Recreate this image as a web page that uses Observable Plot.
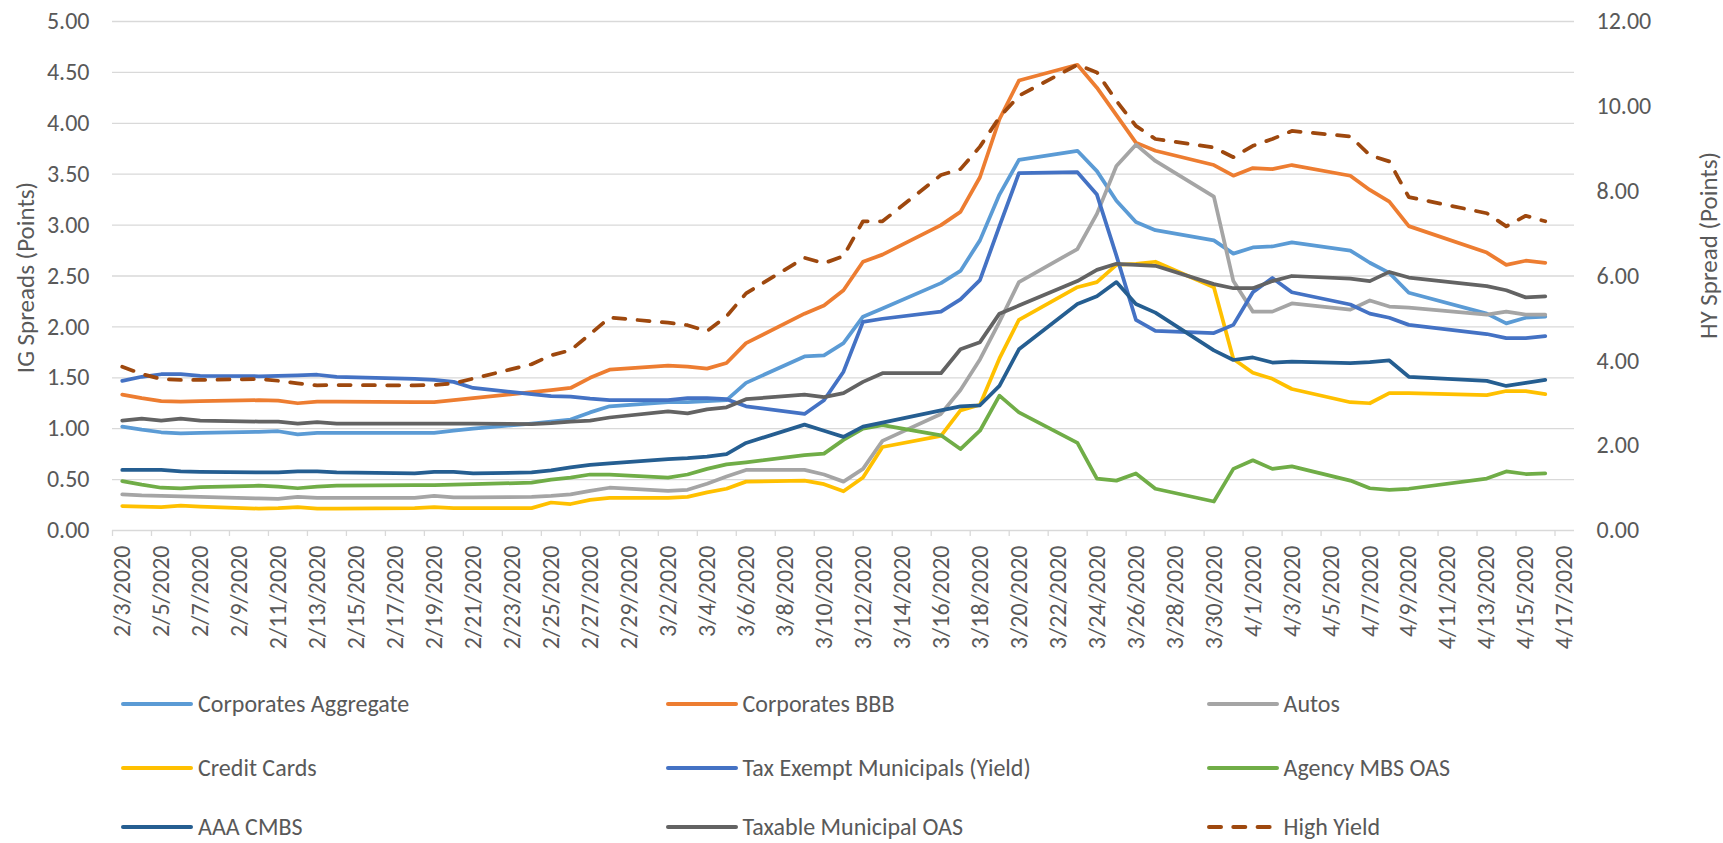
<!DOCTYPE html>
<html><head><meta charset="utf-8">
<script src="https://cdn.jsdelivr.net/npm/d3@7"></script>
<script src="https://cdn.jsdelivr.net/npm/@observablehq/plot@0.6"></script>
<style>
html,body{margin:0;padding:0;background:#fff;overflow:hidden;}
body{width:1723px;height:843px;font-family:Carlito,Calibri,Lato,sans-serif;color:#595959;}
#chart svg{display:block;}
#legend{position:relative;width:1723px;height:193px;}
.item{position:absolute;height:30px;display:flex;align-items:center;white-space:nowrap;font-size:24px;line-height:1;color:#595959;}
.item svg{display:block;}
.item span{line-height:1;}
</style></head><body>
<div id="chart"></div>
<div id="legend"></div>
<script>
// trading days (Presidents Day 2/17 and Good Friday 4/10 have no data)
const dates = ["2/3","2/4","2/5","2/6","2/7","2/10","2/11","2/12","2/13","2/14","2/18","2/19","2/20","2/21","2/24","2/25","2/26","2/27","2/28",
"3/2","3/3","3/4","3/5","3/6","3/9","3/10","3/11","3/12","3/13","3/16","3/17","3/18","3/19","3/20","3/23","3/24","3/25","3/26","3/27","3/30","3/31",
"4/1","4/2","4/3","4/6","4/7","4/8","4/9","4/13","4/14","4/15","4/16"];

const corpAgg = [1.02,0.99,0.965,0.955,0.96,0.97,0.975,0.945,0.96,0.96,0.96,0.96,0.98,1.00,1.05,1.07,1.09,1.16,1.22,
1.26,1.26,1.27,1.28,1.45,1.71,1.72,1.84,2.10,2.18,2.43,2.55,2.85,3.30,3.64,3.73,3.53,3.24,3.03,2.95,2.85,2.72,
2.78,2.79,2.83,2.75,2.63,2.53,2.335,2.13,2.035,2.09,2.10];
const corpBBB = [1.335,1.30,1.27,1.265,1.27,1.28,1.275,1.25,1.265,1.265,1.26,1.26,1.28,1.30,1.36,1.38,1.40,1.50,1.58,
1.62,1.61,1.59,1.645,1.84,2.13,2.21,2.36,2.64,2.71,3.00,3.13,3.47,4.04,4.42,4.575,4.35,4.08,3.81,3.73,3.59,3.485,
3.56,3.55,3.59,3.485,3.345,3.23,2.99,2.73,2.61,2.65,2.63];
const autos = [0.355,0.345,0.34,0.335,0.33,0.315,0.31,0.33,0.32,0.32,0.32,0.34,0.325,0.325,0.33,0.34,0.355,0.39,0.42,
0.39,0.40,0.46,0.53,0.595,0.595,0.55,0.48,0.605,0.88,1.145,1.38,1.68,2.05,2.44,2.765,3.11,3.58,3.79,3.63,3.28,2.45,
2.15,2.15,2.23,2.17,2.26,2.20,2.19,2.12,2.15,2.12,2.12];
const creditCards = [0.24,0.235,0.23,0.245,0.235,0.215,0.22,0.23,0.215,0.215,0.22,0.23,0.22,0.22,0.22,0.275,0.26,0.30,0.32,
0.32,0.33,0.375,0.41,0.48,0.49,0.455,0.385,0.52,0.82,0.93,1.18,1.235,1.69,2.07,2.39,2.44,2.61,2.62,2.64,2.39,1.685,
1.55,1.49,1.39,1.26,1.25,1.35,1.35,1.33,1.37,1.37,1.34];
const taxExempt = [1.47,1.51,1.535,1.535,1.52,1.515,1.52,1.525,1.53,1.51,1.49,1.48,1.46,1.40,1.34,1.32,1.315,1.295,1.28,
1.28,1.30,1.30,1.29,1.22,1.145,1.28,1.56,2.05,2.08,2.15,2.27,2.46,2.99,3.51,3.52,3.30,2.70,2.07,1.96,1.94,2.02,
2.34,2.48,2.34,2.22,2.13,2.09,2.02,1.93,1.89,1.89,1.91];
const agencyMBS = [0.485,0.45,0.42,0.415,0.425,0.44,0.43,0.415,0.43,0.44,0.445,0.445,0.45,0.455,0.47,0.50,0.52,0.55,0.55,
0.52,0.55,0.605,0.65,0.67,0.74,0.755,0.89,1.00,1.035,0.935,0.80,0.98,1.325,1.16,0.86,0.51,0.49,0.56,0.41,0.285,0.605,
0.69,0.605,0.63,0.49,0.415,0.40,0.41,0.51,0.58,0.555,0.56];
const aaaCMBS = [0.595,0.595,0.595,0.58,0.575,0.57,0.57,0.58,0.58,0.57,0.56,0.575,0.575,0.56,0.57,0.59,0.62,0.645,0.66,
0.70,0.71,0.725,0.75,0.86,1.04,0.98,0.92,1.02,1.06,1.18,1.22,1.23,1.42,1.78,2.225,2.30,2.44,2.225,2.14,1.77,1.675,
1.70,1.65,1.66,1.645,1.655,1.67,1.51,1.47,1.42,1.45,1.48];
const taxableMuni = [1.08,1.10,1.08,1.10,1.08,1.07,1.07,1.05,1.065,1.05,1.05,1.05,1.05,1.05,1.045,1.055,1.07,1.08,1.11,
1.17,1.15,1.19,1.21,1.29,1.335,1.31,1.35,1.46,1.545,1.545,1.78,1.85,2.13,2.21,2.45,2.56,2.62,2.61,2.60,2.42,2.38,
2.38,2.45,2.50,2.475,2.45,2.54,2.485,2.40,2.36,2.29,2.30];
// High Yield is read on the right axis (0-12)
const highYield = [3.86,3.69,3.57,3.55,3.55,3.57,3.53,3.47,3.42,3.43,3.42,3.43,3.47,3.58,3.92,4.13,4.25,4.63,5.02,
4.90,4.84,4.70,5.05,5.59,6.43,6.30,6.47,7.29,7.29,8.38,8.52,9.05,9.74,10.25,10.98,10.80,10.13,9.54,9.23,9.03,8.80,
9.07,9.23,9.42,9.29,8.85,8.70,7.86,7.48,7.17,7.42,7.29];

const seriesNames = ["Corporates Aggregate","Corporates BBB","Autos","Credit Cards","Tax Exempt Municipals (Yield)",
"Agency MBS OAS","AAA CMBS","Taxable Municipal OAS","High Yield"];
const seriesColors = ["#5B9BD5","#ED7D31","#A5A5A5","#FFC000","#4472C4","#70AD47","#255E91","#636363","#9E480E"];
const seriesValues = [corpAgg,corpBBB,autos,creditCards,taxExempt,agencyMBS,aaaCMBS,taxableMuni,highYield];
const secondaryAxis = [false,false,false,false,false,false,false,false,true];

const xTickLabels = ["2/3/2020","2/5/2020","2/7/2020","2/9/2020","2/11/2020","2/13/2020","2/15/2020","2/17/2020","2/19/2020",
"2/21/2020","2/23/2020","2/25/2020","2/27/2020","2/29/2020","3/2/2020","3/4/2020","3/6/2020","3/8/2020","3/10/2020",
"3/12/2020","3/14/2020","3/16/2020","3/18/2020","3/20/2020","3/22/2020","3/24/2020","3/26/2020","3/28/2020","3/30/2020",
"4/1/2020","4/3/2020","4/5/2020","4/7/2020","4/9/2020","4/11/2020","4/13/2020","4/15/2020","4/17/2020"];
const yTicks = [0,0.5,1,1.5,2,2.5,3,3.5,4,4.5,5];
const hyTicks = [0,2,4,6,8,10,12];
const hyRatio = 12 / 5;

const DAY = 864e5, HALF = DAY / 2;
function parseDay(s) { const [m, d, y] = s.split("/").map(Number); return new Date(Date.UTC(y || 2020, m - 1, d)); }
const xStart = parseDay("2/3/2020");
const xEnd = new Date(parseDay("4/17/2020").getTime() + DAY);
const tickDates = xTickLabels.map(parseDay);
const labelDates = tickDates.map(d => new Date(d.getTime() + HALF));
const labelMap = new Map(labelDates.map((d, i) => [d.getTime(), xTickLabels[i]]));

const rows = [];
seriesNames.forEach((name, i) => seriesValues[i].forEach((v, j) =>
  rows.push({series: name, date: new Date(parseDay(dates[j]).getTime() + HALF), value: v, secondary: secondaryAxis[i]})));

const FONT = "Carlito, Calibri, Lato, sans-serif";
const TXT = "#595959";
const FS = 24;

const lineMarks = seriesNames.map((name, i) => Plot.line(rows.filter(r => r.series === name), {
  x: "date",
  y: d => d.secondary ? d.value / hyRatio : d.value,
  stroke: seriesColors[i],
  strokeWidth: 3.75,
  strokeLinecap: "round",
  strokeLinejoin: "round",
  strokeDasharray: secondaryAxis[i] ? "12,12.3" : undefined
}));

const chart = Plot.plot({
  width: 1723, height: 650,
  marginLeft: 112, marginRight: 149, marginTop: 21, marginBottom: 120,
  style: {fontFamily: FONT, fontSize: FS + "px", color: TXT, background: "#fff", overflow: "visible"},
  x: {type: "utc", domain: [xStart, xEnd], label: null},
  y: {domain: [0, 5], label: null},
  marks: [
    Plot.gridY(yTicks.filter(t => t > 0), {stroke: "#D9D9D9", strokeOpacity: 1, strokeWidth: 1.3}),
    Plot.ruleY([0], {stroke: "#D9D9D9", strokeWidth: 1.3}),
    Plot.axisX(tickDates, {tickSize: 6, text: null, stroke: "#D9D9D9", strokeOpacity: 1, strokeWidth: 1.3, label: null}),
    Plot.axisX(labelDates, {tickSize: 0, tickPadding: 15, tickRotate: -90, tickFormat: d => labelMap.get(d.getTime()),
      fill: TXT, fontSize: FS, label: null}),
    Plot.axisY(yTicks, {tickSize: 0, tickPadding: 23, tickFormat: d => d.toFixed(2), fill: TXT, fontSize: FS, label: null}),
    Plot.axisY(hyTicks.map(v => v / hyRatio), {anchor: "right", tickSize: 0, tickPadding: 22,
      tickFormat: d => (d * hyRatio).toFixed(2), fill: TXT, fontSize: FS, label: null}),
    Plot.text(["IG Spreads (Points)"], {text: d => d, frameAnchor: "left", dx: -87, dy: 1.5, rotate: -90,
      fill: TXT, fontSize: 25, textAnchor: "middle", lineAnchor: "middle"}),
    Plot.text(["HY Spread (Points)"], {text: d => d, frameAnchor: "right", dx: 134, dy: -30.5, rotate: -90,
      fill: TXT, fontSize: 25, textAnchor: "middle", lineAnchor: "middle"}),
    ...lineMarks
  ]
});
document.getElementById("chart").appendChild(chart);

// legend: 3 columns x 3 rows, below the plot
const legend = document.getElementById("legend");
const colSwatch = [121, 665.5, 1206.5];
const rowCenter = [54, 118, 177];
seriesNames.forEach((name, i) => {
  const col = i % 3, row = Math.floor(i / 3);
  const item = document.createElement("div");
  item.className = "item";
  item.style.left = colSwatch[col] + "px";
  item.style.top = (rowCenter[row] - 15) + "px";
  const ns = "http://www.w3.org/2000/svg";
  const sw = document.createElementNS(ns, "svg");
  sw.setAttribute("width", 72); sw.setAttribute("height", 30);
  const ln = document.createElementNS(ns, "line");
  ln.setAttribute("x1", 2); ln.setAttribute("x2", 70); ln.setAttribute("y1", 15); ln.setAttribute("y2", 15);
  ln.setAttribute("stroke", seriesColors[i]); ln.setAttribute("stroke-width", 4);
  ln.setAttribute("stroke-linecap", "round");
  if (secondaryAxis[i]) ln.setAttribute("stroke-dasharray", "12,12.3");
  sw.appendChild(ln);
  item.appendChild(sw);
  const t = document.createElement("span");
  t.textContent = name;
  t.style.marginLeft = "5px";
  item.appendChild(t);
  legend.appendChild(item);
});
</script></body></html>
